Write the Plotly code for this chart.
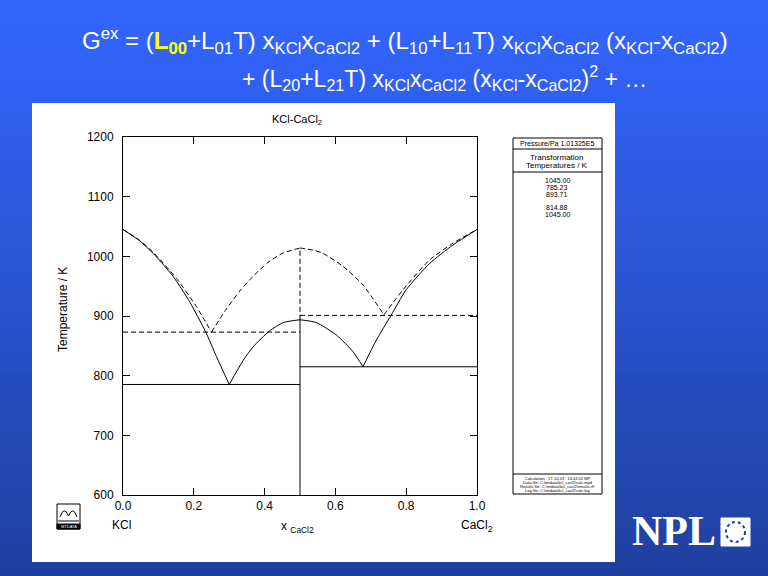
import plotly.graph_objects as go

# stable phase diagram (solid lines)
kcl_liq_x = [0.0, 0.047, 0.09, 0.142, 0.188, 0.233, 0.264, 0.30]
kcl_liq_T = [1045.00, 1026, 1002, 966, 924, 874, 832, 785.23]
cmp_left_x = [0.30, 0.34, 0.367, 0.414, 0.453, 0.5]
cmp_left_T = [785.23, 826, 848, 875, 889, 893.71]
cmp_right_x = [0.5, 0.546, 0.603, 0.65, 0.678]
cmp_right_T = [893.71, 889, 868, 840, 814.88]
cacl2_liq_x = [0.678, 0.716, 0.758, 0.80, 0.866, 0.932, 1.0]
cacl2_liq_T = [814.88, 860, 902, 944, 988, 1019, 1045.00]

# metastable diagram (dashed lines)
meta_kcl_x = [0.0, 0.047, 0.09, 0.151, 0.207, 0.25]
meta_kcl_T = [1045.00, 1027, 1004, 963, 916, 873]
meta_cmp_l_x = [0.25, 0.29, 0.33, 0.37, 0.41, 0.45, 0.5]
meta_cmp_l_T = [873, 910, 942, 968, 990, 1005, 1014]
meta_cmp_r_x = [0.5, 0.54, 0.565, 0.622, 0.678, 0.737]
meta_cmp_r_T = [1014, 1010, 1005, 983, 952, 902]
meta_cacl2_x = [0.737, 0.791, 0.866, 0.932, 1.0]
meta_cacl2_T = [902, 944, 994, 1022, 1045.00]

# invariant temperatures
eut1_T = 785.23
eut2_T = 814.88
cmp_T = 893.71
meta_eut1_T = 873
meta_eut2_T = 901
meta_cmp_T_max = 1014

transformation_T = [1045.00, 785.23, 893.71, 814.88, 1045.00]

x_ticks = [0.0, 0.2, 0.4, 0.6, 0.8, 1.0]
y_ticks = [600, 700, 800, 900, 1000, 1100, 1200]

FONT = "Arial, Liberation Sans, sans-serif"

# plot box in pixels: x 123..477, y 137..495
L, R, T, B = 123, 477, 137, 495


def px(x):
    return (x - L) / (R - L)


def py(y):
    return (B - y) / (B - T)


fig = go.Figure()


def line(x, y, dash="solid", curve=False):
    shape = dict(shape="spline", smoothing=0.6) if curve else {}
    fig.add_trace(go.Scatter(x=x, y=y, mode="lines",
                             line=dict(color="black", width=1, dash=dash, **shape),
                             hoverinfo="skip", showlegend=False))


DASH = "5px,3px"
line(kcl_liq_x, kcl_liq_T, curve=True)
line(cmp_left_x, cmp_left_T, curve=True)
line(cmp_right_x, cmp_right_T, curve=True)
line(cacl2_liq_x, cacl2_liq_T, curve=True)
line([0.0, 0.5], [eut1_T, eut1_T])
line([0.5, 1.0], [eut2_T, eut2_T])
line([0.5, 0.5], [600, cmp_T])

line(meta_kcl_x, meta_kcl_T, DASH, True)
line(meta_cmp_l_x, meta_cmp_l_T, DASH, True)
line(meta_cmp_r_x, meta_cmp_r_T, DASH, True)
line(meta_cacl2_x, meta_cacl2_T, DASH, True)
line([0.0, 0.5], [meta_eut1_T, meta_eut1_T], DASH)
line([0.5, 1.0], [meta_eut2_T, meta_eut2_T], DASH)
line([0.5, 0.5], [cmp_T, meta_cmp_T_max], DASH)

shapes = []

# blue gradient background
top_c = (51, 102, 255)
bot_c = (32, 64, 160)
n = 48
for i in range(n):
    f = i / (n - 1)
    c = tuple(round(top_c[k] + (bot_c[k] - top_c[k]) * f) for k in range(3))
    y0 = 576 * i / n
    y1 = 576 * (i + 1) / n + 1
    shapes.append(dict(type="rect", xref="paper", yref="paper", layer="below",
                       x0=px(0), x1=px(768), y0=py(y0), y1=py(y1),
                       fillcolor="rgb(%d,%d,%d)" % c, line=dict(width=0)))

# white panel
shapes.append(dict(type="rect", xref="paper", yref="paper", layer="below",
                   x0=px(32), x1=px(615), y0=py(103), y1=py(562),
                   fillcolor="white", line=dict(width=0)))


def box(x0, y0, x1, y1, fill=None, w=1, color="black"):
    d = dict(type="rect", xref="paper", yref="paper",
             x0=px(x0), x1=px(x1), y0=py(y0), y1=py(y1),
             line=dict(color=color, width=w))
    if fill:
        d["fillcolor"] = fill
    shapes.append(d)


def hline(x0, x1, y, w=1):
    shapes.append(dict(type="line", xref="paper", yref="paper",
                       x0=px(x0), x1=px(x1), y0=py(y), y1=py(y),
                       line=dict(color="black", width=w)))


# side table
box(513, 138, 602, 494)
hline(513, 602, 149)
hline(513, 602, 172)
hline(513, 602, 474)

# logo bottom-left
box(57, 504, 80, 529)
shapes.append(dict(type="path", xref="paper", yref="paper",
                   path="M %f %f Q %f %f %f %f Q %f %f %f %f" % (
                       px(60), py(517), px(64), py(505), px(68.5), py(516),
                       px(73), py(505), px(77), py(517)),
                   line=dict(color="black", width=1)))
hline(58, 79, 521)
box(57, 524, 80, 529, fill="black")

# NPL emblem
box(721, 518, 750, 546, fill="white", color="white")
shapes.append(dict(type="circle", xref="paper", yref="paper",
                   x0=px(726), x1=px(745), y0=py(522), y1=py(542),
                   line=dict(color="#2040A0", width=2, dash="dot")))

ann = []


def text(x, y, s, size=11, color="black", xanchor="center", angle=0, family=FONT):
    ann.append(dict(x=px(x), y=py(y), xref="paper", yref="paper", text=s,
                    showarrow=False, xanchor=xanchor, yanchor="middle",
                    textangle=angle, font=dict(size=size, color=color, family=family)))


# equation header
text(80, 41,
     "G<sup>ex</sup> = (<span style='color:#FFFF00'><b>L<sub>00</sub></b></span>+L<sub>01</sub>T) "
     "x<sub>KCl</sub>x<sub>CaCl2</sub> + (L<sub>10</sub>+L<sub>11</sub>T) "
     "x<sub>KCl</sub>x<sub>CaCl2</sub> (x<sub>KCl</sub>-x<sub>CaCl2</sub>)",
     size=24, color="white", xanchor="left")
text(240, 78,
     "+ (L<sub>20</sub>+L<sub>21</sub>T) x<sub>KCl</sub>x<sub>CaCl2</sub> "
     "(x<sub>KCl</sub>-x<sub>CaCl2</sub>)<sup>2</sup> + \u2026",
     size=23, color="white", xanchor="left")

# chart labels
text(297, 120, "KCl-CaCl<sub>2</sub>", size=11)
text(63, 310, "Temperature / K", size=12, angle=-90)
text(297, 527, "x <sub>CaCl2</sub>", size=12)
text(121, 525, "KCl", size=12)
text(477, 526, "CaCl<sub>2</sub>", size=12)

# side table text
text(557, 143, "Pressure/Pa 1.01325E5", size=7)
text(557, 157, "Transformation", size=8)
text(557, 165, "Temperatures / K", size=8)
row_y = [180, 187, 194, 207, 214]
for v, yy in zip(transformation_T, row_y):
    text(557, yy, "%.2f" % v, size=7)
footer = ["Calculation : 17-10-03   14:44:52 MP",
          "Data file: C:\\mtdata\\kcl_cacl2\\calc.mpd",
          "Results file: C:\\mtdata\\kcl_cacl2\\results.rfl",
          "Log file: C:\\mtdata\\kcl_cacl2\\calc.log"]
for s, yy in zip(footer, [478, 482, 486, 490]):
    text(557, yy, s, size=4)

# logo text
text(68.5, 526.5, "MTDATA", size=4, color="white")

# NPL logo
text(674, 531, "<b>NPL</b>", size=42, color="white",
     family="Liberation Serif, Times New Roman, serif")

axis_common = dict(showline=True, linecolor="black", linewidth=1, mirror="ticks",
                   ticks="inside", ticklen=7, tickcolor="black", showgrid=False,
                   zeroline=False, tickfont=dict(family=FONT, size=12, color="black"))

fig.update_layout(
    width=768, height=576,
    margin=dict(l=L, r=768 - R, t=T, b=576 - B, pad=0),
    paper_bgcolor="#2040A0",
    plot_bgcolor="rgba(0,0,0,0)",
    xaxis=dict(range=[0, 1], tickvals=x_ticks, tickformat=".1f", **axis_common),
    yaxis=dict(range=[600, 1200], tickvals=y_ticks, ticklabelstandoff=6, **axis_common),
    shapes=shapes,
    annotations=ann,
    showlegend=False,
)

fig.write_html("out.html", config={"displayModeBar": False},
               post_script="document.body.style.margin='0';")
